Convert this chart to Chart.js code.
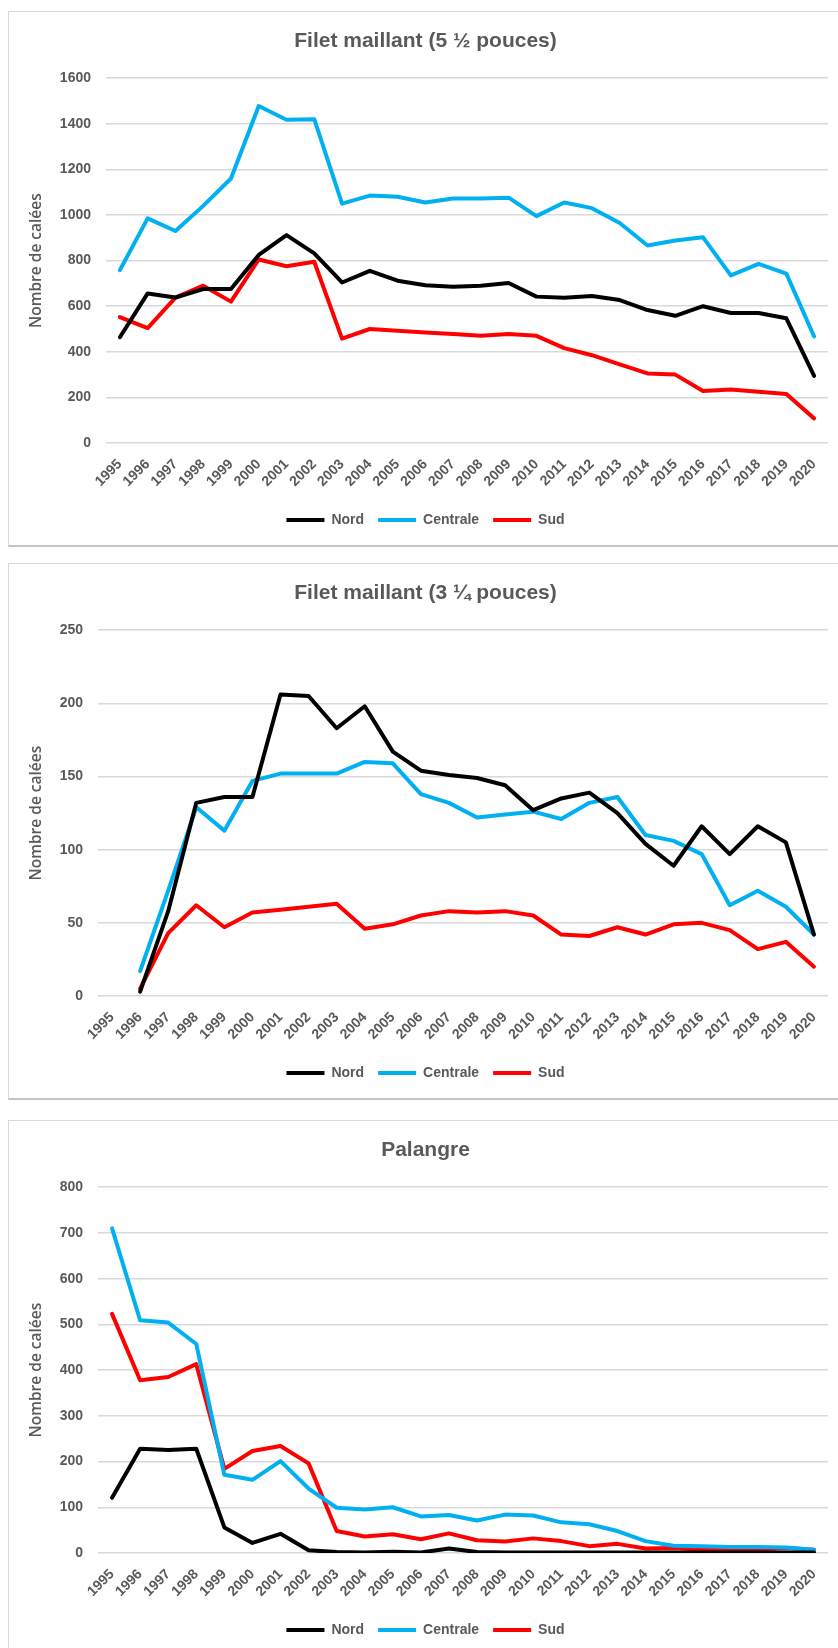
<!DOCTYPE html>
<html>
<head>
<meta charset="utf-8">
<script src="https://cdn.jsdelivr.net/npm/chart.js@4.4.1/dist/chart.umd.min.js"></script>
<style>
  html, body { margin: 0; padding: 0; background: #fff; overflow: hidden; width: 838px; height: 1648px; }
  .box { position: absolute; left: 8px; width: 840px; background: #fff;
         border-left: 1px solid #d9d9d9; border-top: 1px solid #d9d9d9; border-bottom: 2px solid #c4c4c4; }
  .box canvas { display: block; }
</style>
</head>
<body>
<div class="box" style="top:11px;height:533px"><canvas id="c1" width="830" height="533"></canvas></div>
<div class="box" style="top:563px;height:534px"><canvas id="c2" width="830" height="534"></canvas></div>
<div class="box" style="top:1120px;height:540px;border-bottom:none"><canvas id="c3" width="830" height="534"></canvas></div>

<script>
const years = ['1995','1996','1997','1998','1999','2000','2001','2002','2003','2004','2005','2006','2007',
               '2008','2009','2010','2011','2012','2013','2014','2015','2016','2017','2018','2019','2020'];

// Filet maillant (5 1/2 pouces)
const gill55Nord     = [464, 656, 638, 675, 675, 825, 912, 832, 704, 755, 712, 692, 685, 690, 702, 642, 637, 645, 627, 583, 558, 600, 570, 570, 547, 294];
const gill55Centrale = [758, 985, 930, 1040, 1160, 1478, 1418, 1420, 1050, 1085, 1080, 1055, 1072, 1072, 1076, 995, 1055, 1030, 965, 866, 888, 902, 735, 786, 743, 467];
const gill55Sud      = [552, 504, 638, 690, 620, 805, 775, 795, 458, 500, 492, 485, 478, 470, 478, 470, 416, 385, 345, 305, 300, 228, 235, 225, 215, 108];

// Filet maillant (3 1/4 pouces)
const gill34Nord     = [null, 3, 58, 132, 136, 136, 206, 205, 183, 198, 167, 154, 151, 149, 144, 127, 135, 139, 125, 104, 89, 116, 97, 116, 105, 42];
const gill34Centrale = [null, 17, 72, 129, 113, 147, 152, 152, 152, 160, 159, 138, 132, 122, 124, 126, 121, 132, 136, 110, 106, 97, 62, 72, 61, 42];
const gill34Sud      = [null, 5, 43, 62, 47, 57, 59, 61, 63, 46, 49, 55, 58, 57, 58, 55, 42, 41, 47, 42, 49, 50, 45, 32, 37, 20];

// Palangre
const longNord     = [121, 228, 225, 228, 56, 22, 42, 6, 2, 1, 3, 1, 10, 2, 1, 1, 1, 1, 1, 1, 1, 1, 1, 1, 1, 1];
const longCentrale = [710, 509, 504, 457, 171, 160, 201, 141, 99, 95, 100, 80, 83, 71, 84, 82, 67, 63, 48, 26, 16, 15, 13, 13, 12, 7];
const longSud      = [523, 378, 385, 413, 184, 223, 234, 196, 48, 36, 41, 30, 43, 28, 25, 32, 26, 15, 20, 10, 11, 7, 7, 7, 11, 7];

const seriesNames = ['Nord', 'Centrale', 'Sud'];
const seriesColors = ['#000000', '#00b0f0', '#ff0000'];

const gray = '#595959';
const sans = '"Liberation Sans", Arial, sans-serif';

function makeChart(id, title, series, yMax, yStep, plotLeft) {
    const datasets = series.map((values, i) => ({
        label: seriesNames[i],
        data: values,
        borderColor: seriesColors[i],
        backgroundColor: seriesColors[i],
        borderWidth: 4,
        pointRadius: 0,
        tension: 0,
        borderJoinStyle: 'round',
        borderCapStyle: 'round'
    }));

    new Chart(document.getElementById(id), {
        type: 'line',
        data: { labels: years, datasets: datasets },
        options: {
            responsive: false,
            animation: false,
            layout: { padding: { top: 7, left: 14, right: 11, bottom: 8 } },
            plugins: {
                title: {
                    display: true,
                    text: title,
                    color: gray,
                    font: { family: sans, size: 21, weight: 'bold' },
                    padding: { top: 10, bottom: 24 }
                },
                legend: {
                    position: 'bottom',
                    labels: {
                        color: gray,
                        font: { family: sans, size: 14, weight: 'bold' },
                        boxWidth: 38,
                        boxHeight: 4,
                        padding: 14,
                        generateLabels: chart => Chart.defaults.plugins.legend.labels.generateLabels(chart)
                            .map(item => Object.assign(item, { lineWidth: 0 }))
                    }
                },
                tooltip: { enabled: false }
            },
            scales: {
                x: {
                    offset: true,
                    grid: { display: false },
                    border: { display: false },
                    ticks: {
                        color: gray,
                        font: { family: sans, size: 14, weight: 'bold' },
                        minRotation: 45,
                        maxRotation: 45,
                        autoSkip: false,
                        padding: 5
                    },
                    afterFit: scale => { scale.height = 56; }
                },
                y: {
                    min: 0,
                    max: yMax,
                    border: { display: false },
                    grid: { color: '#d9d9d9', lineWidth: 1.5, drawTicks: false },
                    ticks: {
                        stepSize: yStep,
                        color: gray,
                        font: { family: sans, size: 14, weight: 'bold' },
                        padding: 15,
                        callback: value => String(value)
                    },
                    title: {
                        display: true,
                        text: 'Nombre de calées',
                        color: gray,
                        font: { family: '"Open Sans", sans-serif', size: 15.5, weight: '600' },
                        padding: { top: 4, bottom: 4 }
                    },
                    afterFit: scale => { scale.width = plotLeft - 14; }
                }
            }
        }
    });
}

makeChart('c1', 'Filet maillant (5 ½ pouces)', [gill55Nord, gill55Centrale, gill55Sud], 1600, 200, 97);
makeChart('c2', 'Filet maillant (3 ¼ pouces)', [gill34Nord, gill34Centrale, gill34Sud], 250, 50, 89);
makeChart('c3', 'Palangre', [longNord, longCentrale, longSud], 800, 100, 89);
</script>
</body>
</html>
